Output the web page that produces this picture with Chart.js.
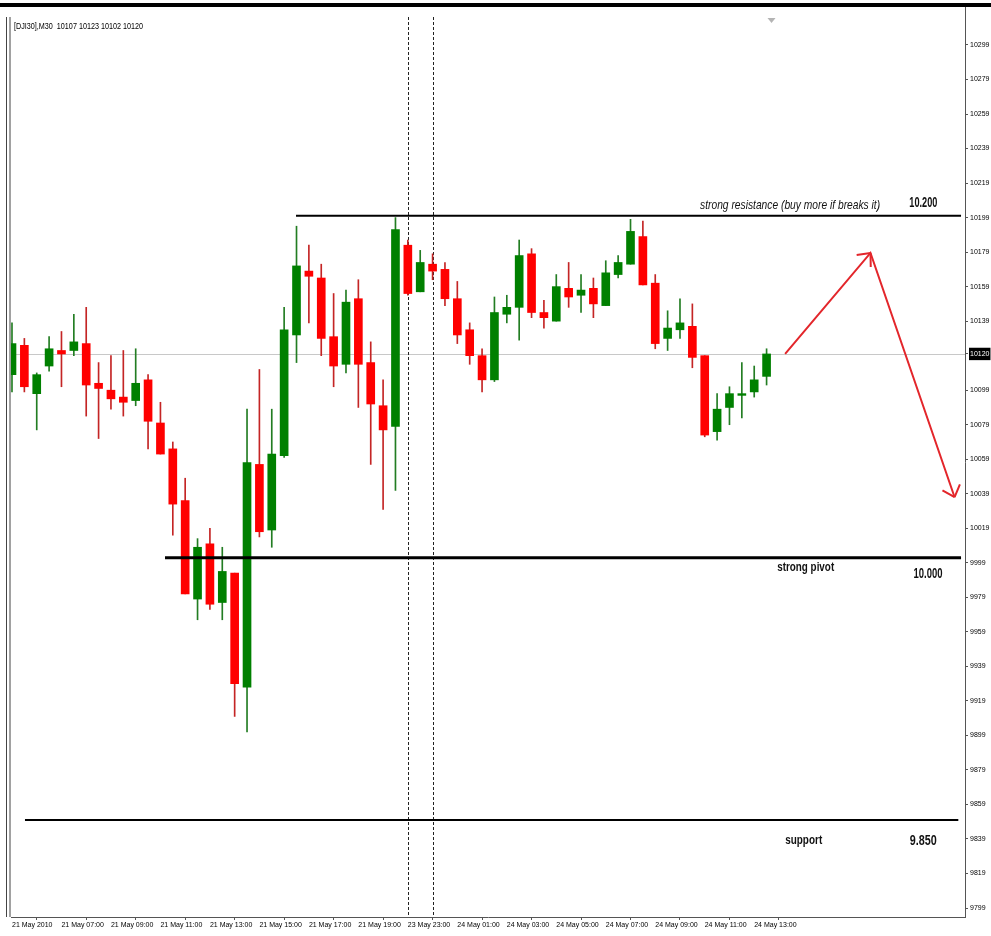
<!DOCTYPE html>
<html>
<head>
<meta charset="utf-8">
<title>DJI30 M30</title>
<script src="https://cdn.jsdelivr.net/npm/chart.js@4.4.1/dist/chart.umd.min.js"></script>
<style>
  html, body { margin: 0; padding: 0; background: #fff; }
  #wrap { width: 991px; height: 936px; }
</style>
</head>
<body>
<div id="wrap"><canvas id="chart" width="991" height="936"></canvas></div>
<script>
// --- data (bar index 0 = 21 May 05:00) ---
const symbol = '[DJI30],M30';

const opens  = [10108, 10125, 10097, 10113, 10122, 10122, 10126, 10103, 10099, 10095,
                10093, 10105, 10080, 10065, 10035,  9978, 10010,  9976,  9993,  9927,
                10056, 10018, 10061, 10131, 10168, 10164, 10130, 10114, 10152, 10115,
                10090, 10078, 10183, 10156, 10172, 10169, 10152, 10134, 10119, 10105,
                10143, 10147, 10178, 10144, 10139, 10158, 10154, 10158, 10148, 10166,
                10172, 10188, 10161, 10129, 10134, 10136, 10119, 10075, 10089, 10096,
                10098, 10107];
const highs  = [10138, 10129, 10109, 10130, 10133, 10143, 10147, 10115, 10119, 10122,
                10123, 10108, 10092, 10069, 10048, 10013, 10019, 10008,  9993, 10088,
                10111, 10088, 10147, 10194, 10183, 10172, 10155, 10157, 10163, 10127,
                10105, 10199, 10186, 10180, 10178, 10173, 10162, 10138, 10123, 10153,
                10154, 10186, 10181, 10151, 10166, 10173, 10166, 10164, 10174, 10177,
                10198, 10197, 10166, 10145, 10152, 10149, 10119, 10097, 10101, 10115,
                10113, 10123];
const lows   = [10098, 10098, 10076, 10110, 10101, 10119, 10084, 10071, 10088, 10084,
                10090, 10065, 10062, 10015,  9981,  9966,  9972,  9966,  9910,  9901,
                10014, 10008, 10060, 10115, 10138, 10119, 10101, 10109, 10089, 10056,
                10030, 10041, 10154, 10156, 10163, 10148, 10126, 10114, 10098, 10104,
                10138, 10128, 10141, 10135, 10139, 10147, 10144, 10141, 10148, 10164,
                10172, 10160, 10123, 10122, 10129, 10112, 10072, 10070, 10079, 10083,
                10095, 10102];
const closes = [10126, 10101, 10108, 10123, 10120, 10127, 10102, 10100, 10094, 10092,
                10103, 10081, 10062, 10033,  9981, 10008,  9975,  9994,  9929, 10057,
                10017, 10062, 10134, 10171, 10165, 10129, 10113, 10150, 10114, 10091,
                10076, 10192, 10155, 10173, 10168, 10152, 10131, 10119, 10105, 10144,
                10147, 10177, 10144, 10141, 10159, 10153, 10157, 10149, 10167, 10173,
                10191, 10160, 10126, 10135, 10138, 10118, 10073, 10088, 10097, 10097,
                10105, 10120];

const timeTickIndex  = [0, 4, 8, 12, 16, 20, 24, 28, 32, 36, 40, 44, 48, 52, 56, 60];
const timeTickLabels = ['21 May 2010', '21 May 07:00', '21 May 09:00', '21 May 11:00',
                        '21 May 13:00', '21 May 15:00', '21 May 17:00', '21 May 19:00',
                        '23 May 23:00', '24 May 01:00', '24 May 03:00', '24 May 05:00',
                        '24 May 07:00', '24 May 09:00', '24 May 11:00', '24 May 13:00'];
const priceTicks = [10299, 10279, 10259, 10239, 10219, 10199, 10179, 10159, 10139, 10120,
                    10099, 10079, 10059, 10039, 10019, 9999, 9979, 9959, 9939, 9919,
                    9899, 9879, 9859, 9839, 9819, 9799];

// day separators (bar index)
const separators = [32, 34];

// hand drawn levels: resistance, pivot, support
const levelPrices = [10200, 10002, 9850];
const levelStarts = [22.96, 12.37, 1.05];
const levelEnds   = [76.72, 76.72, 76.5];

// forecast arrow (bar index / price)
const arrowX = [62.5, 69.4, 76.2];
const arrowY = [10120, 10178.5, 10037];

// --- chart ---
const lastIdx = closes.length - 1;
const lastClose = closes[lastIdx];
const isUp = opens.map((o, i) => closes[i] >= o);

const UP = '#008000', DOWN = '#ff0000';
const UP_WICK = '#237d23', DOWN_WICK = '#c42525';
const TICK_FONT = "'Liberation Sans', Arial, sans-serif";

// notes next to the levels; w = squeezed text width (the screenshot uses a narrow face)
const levelNotes = [
  { text: 'strong resistance (buy more if breaks it)', x: 62.9, y: 10206.0, font: 'italic 13px', w: 180 },
  { text: '10.200', x: 73.67, y: 10207.3, font: 'bold 14px', w: 28 },
  { text: 'strong pivot', x: 64.16, y: 9996.6, font: 'bold 13px', w: 57 },
  { text: '10.000', x: 74.05, y: 9992.6, font: 'bold 15px', w: 29 },
  { text: 'support', x: 64.0, y: 9838.4, font: 'bold 13px', w: 37 },
  { text: '9.850', x: 73.67, y: 9838.2, font: 'bold 15px', w: 27 }
];

function squeezedText(ctx, text, x, y, font, width) {
  ctx.font = font + ' ' + TICK_FONT;
  const sx = width / ctx.measureText(text).width;
  ctx.save();
  ctx.translate(x, y);
  ctx.scale(sx, 1);
  ctx.fillText(text, 0, 0);
  ctx.restore();
}

const overlay = {
  id: 'mt4Overlay',
  beforeDraw(chart) {
    const { ctx, chartArea: a } = chart;
    ctx.save();
    ctx.fillStyle = '#fff';
    ctx.fillRect(0, 0, chart.width, chart.height);
    ctx.fillStyle = '#000';
    ctx.fillRect(0, 3, chart.width, 4);
    ctx.strokeStyle = '#444';
    ctx.lineWidth = 1;
    ctx.beginPath();
    ctx.moveTo(6.5, 17); ctx.lineTo(6.5, a.bottom);
    ctx.moveTo(10, 17); ctx.lineTo(10, a.bottom);
    ctx.stroke();
    ctx.restore();
  },
  beforeDatasetsDraw(chart) {
    const { ctx, chartArea: a, scales } = chart;
    ctx.save();
    // last price line
    const py = Math.round(scales.y.getPixelForValue(lastClose)) + 0.5;
    ctx.strokeStyle = '#c8c8c8';
    ctx.lineWidth = 1;
    ctx.beginPath();
    ctx.moveTo(a.left, py); ctx.lineTo(a.right, py);
    ctx.stroke();
    // period separators
    ctx.strokeStyle = '#222';
    ctx.setLineDash([3, 2]);
    separators.forEach(function (i) {
      const px = Math.round(scales.x.getPixelForValue(i)) + 0.5;
      ctx.beginPath();
      ctx.moveTo(px, a.top + 10); ctx.lineTo(px, a.bottom);
      ctx.stroke();
    });
    ctx.restore();
  },
  afterDatasetsDraw(chart) {
    const { ctx, scales } = chart;
    const xs = scales.x, ys = scales.y;
    ctx.save();
    // arrow heads at the end of each leg
    const pts = arrowX.map((v, i) => ({ x: xs.getPixelForValue(v), y: ys.getPixelForValue(arrowY[i]) }));
    ctx.strokeStyle = '#e3262b';
    ctx.lineWidth = 2;
    ctx.beginPath();
    for (let k = 1; k < pts.length; k++) {
      const p0 = pts[k - 1], p1 = pts[k];
      const ang = Math.atan2(p1.y - p0.y, p1.x - p0.x);
      [-1, 1].forEach(function (s) {
        const b = ang + Math.PI + s * 0.72;
        ctx.moveTo(p1.x, p1.y);
        ctx.lineTo(p1.x + 14 * Math.cos(b), p1.y + 14 * Math.sin(b));
      });
    }
    ctx.stroke();

    // level notes
    ctx.fillStyle = '#111';
    ctx.textAlign = 'center';
    ctx.textBaseline = 'middle';
    levelNotes.forEach(function (n) {
      squeezedText(ctx, n.text, xs.getPixelForValue(n.x), ys.getPixelForValue(n.y), n.font, n.w);
    });

    // header: symbol + last bar OHLC
    ctx.textAlign = 'left';
    ctx.fillStyle = '#000';
    const h = symbol + '  ' + [opens[lastIdx], highs[lastIdx], lows[lastIdx], closes[lastIdx]].join(' ');
    squeezedText(ctx, h, 14, 27, '9px', 129);

    // chart shift marker
    const mx = xs.getPixelForValue(61.4);
    ctx.fillStyle = '#b4b4b4';
    ctx.beginPath();
    ctx.moveTo(mx - 4, 18); ctx.lineTo(mx + 4, 18); ctx.lineTo(mx, 23);
    ctx.closePath();
    ctx.fill();
    ctx.restore();
  }
};

const levelDatasets = levelPrices.map(function (p, i) {
  return {
    type: 'line',
    data: [{ x: levelStarts[i], y: p }, { x: levelEnds[i], y: p }],
    borderColor: '#000',
    borderWidth: i === 1 ? 3 : 2,
    pointRadius: 0,
    order: 0
  };
});

new Chart(document.getElementById('chart'), {
  type: 'bar',
  data: {
    datasets: levelDatasets.concat([
      {
        type: 'line',
        data: arrowX.map((x, i) => ({ x: x, y: arrowY[i] })),
        borderColor: '#e3262b',
        borderWidth: 2,
        pointRadius: 0,
        tension: 0,
        order: 0
      },
      {
        data: opens.map((o, i) => ({ x: i, y: [o, closes[i]] })),
        backgroundColor: isUp.map(u => u ? UP : DOWN),
        barThickness: 8,
        minBarLength: 1,
        grouped: false,
        borderWidth: 0,
        order: 1
      },
      {
        data: lows.map((l, i) => ({ x: i, y: [l, highs[i]] })),
        backgroundColor: isUp.map(u => u ? UP_WICK : DOWN_WICK),
        barThickness: 1,
        grouped: false,
        borderWidth: 0,
        order: 2
      }
    ])
  },
  options: {
    responsive: false,
    animation: false,
    events: [],
    layout: { padding: { left: 11, top: 7, right: 0, bottom: 0 } },
    plugins: { legend: { display: false }, tooltip: { enabled: false } },
    scales: {
      x: {
        type: 'linear',
        position: 'bottom',
        min: -0.08,
        max: 77.04,
        offset: false,
        afterBuildTicks: s => { s.ticks = timeTickIndex.map(v => ({ value: v })); },
        afterFit: s => { s.height = 19; },
        grid: { drawOnChartArea: false, drawTicks: true, tickLength: 3, color: '#555' },
        border: { display: true, color: '#555' },
        ticks: {
          autoSkip: false, maxRotation: 0, minRotation: 0, align: 'start', padding: 1,
          color: '#000', font: { family: TICK_FONT, size: 7 },
          callback: (v, i) => timeTickLabels[i]
        }
      },
      y: {
        type: 'linear',
        position: 'right',
        min: 9793.8,
        max: 10321.0,
        afterBuildTicks: s => { s.ticks = priceTicks.map(v => ({ value: v })); },
        afterFit: s => { s.width = 26; },
        grid: { drawOnChartArea: false, drawTicks: true, tickLength: 3, color: '#555' },
        border: { display: true, color: '#555' },
        ticks: {
          padding: 2,
          font: { family: TICK_FONT, size: 7 },
          color: c => c.tick && c.tick.value === lastClose ? '#fff' : '#000',
          showLabelBackdrop: true,
          backdropColor: c => c.tick && c.tick.value === lastClose ? '#000' : 'rgba(0,0,0,0)',
          backdropPadding: { x: 1, y: 2 },
          callback: v => String(v)
        }
      }
    }
  },
  plugins: [overlay]
});
</script>
</body>
</html>
